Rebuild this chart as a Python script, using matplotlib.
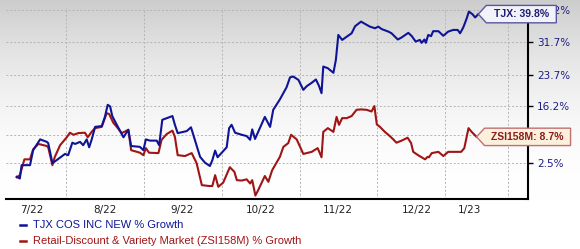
import numpy as np
import matplotlib
matplotlib.use("Agg")
import matplotlib.pyplot as plt
from matplotlib.patches import Polygon
from matplotlib.transforms import IdentityTransform

# trading days since start (x) and % growth (y)
tjx_day = [0.0, 0.9, 1.4, 3.8, 4.7, 6.7, 8.6, 9.0, 10.2, 11.4, 13.8, 14.7, 15.9, 16.7, 18.1,
           19.0, 20.0, 20.7, 21.4, 22.4, 24.3, 25.2, 26.0, 26.7, 27.3, 28.6, 30.5, 31.9, 32.7,
           35.2, 36.2, 36.9, 38.1, 40.0, 40.7, 41.6, 42.9, 44.5, 45.2, 46.0, 47.6, 48.6, 49.8,
           50.9, 52.4, 53.8, 55.2, 55.9, 56.7, 57.4, 58.6, 60.0, 60.7, 61.4, 62.4, 64.3, 65.7,
           66.7, 67.3, 68.1, 70.9, 72.4, 73.3, 75.2, 77.1, 78.1, 79.0, 80.5, 81.9, 82.9, 84.3,
           85.5, 86.4, 87.1, 87.6, 88.9, 90.5, 91.2, 91.9, 93.0, 95.7, 96.7, 98.4, 99.0, 100.9,
           102.4, 103.3, 104.3, 106.2, 107.1, 108.9, 110.0, 111.9, 112.9, 114.0, 115.2, 115.7,
           116.5, 116.9, 117.6, 118.4, 119.0, 120.5, 121.9, 123.3, 124.7, 126.0, 126.7, 127.6,
           128.6, 129.2, 130.2, 131.0, 131.9]
tjx_pct = [-0.8, -1.2, 2.0, 2.0, 5.6, 8.2, 7.6, 7.3, 2.5, 3.2, 4.7, 4.4, 7.4, 7.1, 7.6,
           6.8, 8.2, 6.3, 8.1, 11.2, 11.4, 13.6, 16.5, 16.1, 13.8, 11.7, 8.7, 10.5, 6.6,
           6.4, 5.6, 8.2, 7.9, 7.9, 6.8, 12.9, 13.3, 13.8, 11.7, 9.7, 10.0, 10.2, 11.1,
           8.1, 4.0, 2.6, 1.8, 3.2, 5.5, 3.9, 5.0, 6.3, 10.9, 11.7, 9.8, 9.3, 9.0,
           8.1, 10.6, 8.3, 13.6, 11.2, 15.3, 17.8, 20.7, 23.1, 23.3, 22.5, 20.1, 21.0, 21.8,
           22.6, 21.0, 19.3, 25.7, 25.3, 24.2, 27.3, 33.3, 32.1, 33.7, 35.4, 36.5, 36.2, 35.3,
           34.9, 35.3, 34.7, 34.1, 33.7, 32.2, 32.7, 33.8, 33.0, 31.7, 32.1, 31.4,
           32.2, 31.4, 33.3, 33.0, 34.2, 34.2, 33.1, 34.1, 34.5, 34.5, 33.7, 35.1,
           37.3, 38.9, 38.3, 37.5, 38.3]

zsi_day = [0.0, 0.9, 2.2, 3.8, 4.7, 6.2, 8.6, 9.0, 10.2, 10.9, 12.4, 14.3, 15.2, 16.2, 17.6,
           19.5, 20.3, 21.4, 22.4, 24.3, 25.7, 26.4, 27.6, 28.6, 30.0, 31.9, 32.7, 35.2, 36.2,
           36.9, 37.8, 40.5, 41.4, 42.9, 44.5, 45.2, 46.0, 48.1, 50.0, 51.4, 52.9, 54.9, 55.9,
           56.7, 57.6, 59.0, 60.9, 62.2, 62.9, 64.3, 65.7, 66.7, 67.3, 68.2, 69.0, 70.9, 71.9,
           73.0, 75.2, 76.2, 77.6, 78.4, 80.0, 81.9, 84.3, 86.0, 87.1, 87.6, 88.9, 90.5, 91.4,
           92.1, 93.0, 94.3, 95.7, 97.1, 98.4, 100.0, 101.4, 102.2, 102.9, 103.8, 105.2, 106.6,
           107.6, 108.5, 110.0, 111.7, 112.7, 113.3, 114.7, 116.7, 117.4, 117.8, 118.6, 120.5,
           121.9, 123.3, 127.0, 127.9, 129.1, 130.0, 131.4]
zsi_pct = [-0.9, -0.4, 3.4, 3.4, 5.8, 7.1, 6.6, 6.3, 2.0, 4.0, 6.8, 8.7, 9.8, 9.3, 9.7,
           9.8, 8.7, 10.0, 10.9, 11.2, 14.5, 14.3, 12.2, 11.2, 9.7, 10.5, 5.6, 5.0, 4.4,
           6.1, 5.0, 4.9, 8.1, 9.5, 10.3, 8.8, 4.4, 4.2, 4.9, 2.5, -2.8, -3.0, -3.0,
           -0.4, -3.2, -2.2, 1.5, 0.4, -1.6, -1.7, -1.4, -2.4, -1.6, -5.3, -4.0, -0.6, -2.0,
           0.8, 4.0, 6.4, 7.3, 9.3, 8.2, 4.7, 5.2, 6.1, 3.9, 10.0, 10.9, 10.0, 13.6,
           11.7, 13.3, 13.3, 13.8, 15.3, 15.4, 15.3, 14.9, 16.2, 11.8, 11.2, 10.0, 9.0,
           8.2, 7.4, 7.9, 8.6, 7.3, 5.2, 4.4, 3.4, 4.0, 3.9, 4.9, 5.2,
           4.2, 5.2, 5.2, 6.1, 10.9, 10.0, 8.8]

month_pos = [4.4, 25.2, 47.2, 69.8, 91.8, 114.4, 129.5]
month_labels = ["7/22", "8/22", "9/22", "10/22", "11/22", "12/22", "1/23"]
vgrid_pos = [14.1, 36.4, 58.7, 81.0, 103.0, 122.4, 140.4]
y_ticks = [2.5, 9.3, 16.2, 23.7, 31.7, 39.2]
# the 9.3% label sits behind the ZSI tag in the original, so it stays blank
y_labels = ["2.5%", "", "16.2%", "23.7%", "31.7%", "39.2%"]

tjx_tag = "TJX: 39.8%"
zsi_tag = "ZSI158M: 8.7%"
legend_labels = ["TJX COS INC NEW % Growth",
                 "Retail-Discount & Variety Market (ZSI158M) % Growth"]

blue = "#0f1496"
red = "#a01414"

fig = plt.figure(figsize=(5.8, 2.49), dpi=100)

# gray-to-white background gradient
bg = fig.add_axes([0, 0, 1, 1], zorder=-10)
rows = np.arange(249)
t = np.clip(rows / 200, 0, 1)
shade = 1 - 0.2 * (1 - t) ** 2
bg.imshow(np.dstack([shade, shade, shade]).reshape(249, 1, 3),
          aspect="auto", extent=[0, 1, 0, 1])
bg.axis("off")

ax = fig.add_axes([6 / 580, 50 / 249, 522 / 580, 191 / 249])
ax.set_facecolor("none")

ax.plot(zsi_day, zsi_pct, color=red, lw=1.5, zorder=3)
ax.plot(tjx_day, tjx_pct, color=blue, lw=1.5, zorder=4)

ax.set_xlim(-3.06, 146.1)
ax.set_ylim(-6.13, 39.77)

ax.set_xticks(month_pos)
ax.set_xticklabels(month_labels)
ax.set_xticks(vgrid_pos, minor=True)
ax.yaxis.tick_right()
ax.set_yticks(y_ticks)
ax.set_yticklabels(y_labels)

ax.tick_params(axis="x", which="both", length=0, pad=4, labelsize=7.5, labelcolor="#222222")
ax.tick_params(axis="y", direction="out", length=3.6, width=1, pad=3,
               labelsize=7.5, labelcolor="#1c1c84")
ax.grid(axis="x", which="minor", color="#b4b4b4", lw=0.7, ls=(0, (2, 2)))
ax.grid(axis="y", which="major", color="#b4b4b4", lw=0.7, ls=(0, (2, 2)))

for s in ["left", "top"]:
    ax.spines[s].set_visible(False)
for s in ["right", "bottom"]:
    ax.spines[s].set_color("black")
    ax.spines[s].set_linewidth(1.5)


def add_tag(x, y, text, width, face, edge, tcolor):
    ax_x, ax_y = ax.transData.transform((x, y))
    h = 8.7
    verts = np.array([[0, 0], [8, h], [width, h], [width, -h], [8, -h]]) + [ax_x, ax_y]
    poly = Polygon(verts, closed=True, transform=IdentityTransform(), facecolor=face,
                   edgecolor=edge, lw=1, zorder=5)
    fig.add_artist(poly)
    fig.text(ax_x + 8 + (width - 8) / 2, ax_y, text, transform=IdentityTransform(),
             ha="center", va="center", fontsize=7.5, fontweight="bold",
             family="Liberation Sans", color=tcolor, zorder=6)


add_tag(tjx_day[-1], tjx_pct[-1], tjx_tag, 78, "#f2f2fb", "#5858a0", "#1c1c70")
add_tag(zsi_day[-1], zsi_pct[-1], zsi_tag, 94, "#faf0dc", "#c07070", "#8b1a1a")

# legend
for i, (lab, col) in enumerate(zip(legend_labels, [blue, red])):
    yy = 1 - (225 + i * 16) / 249
    fig.add_artist(plt.Line2D([20 / 580, 26 / 580], [yy, yy], color=col, lw=1.8))
    fig.text(33 / 580, yy, lab, ha="left", va="center", fontsize=8,
             family="Liberation Sans", color=col)

fig.savefig("out.png", dpi=100)
